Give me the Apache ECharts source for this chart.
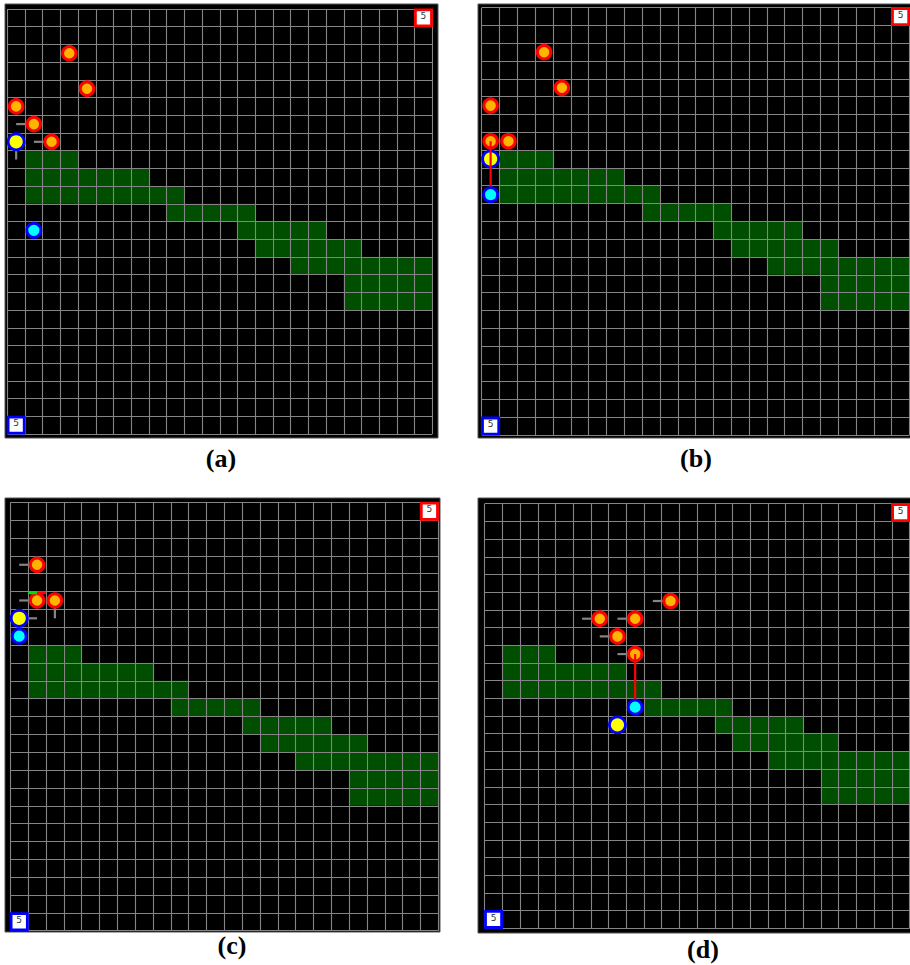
<!DOCTYPE html>
<html><head><meta charset="utf-8">
<script src="https://cdn.jsdelivr.net/npm/echarts@6/dist/echarts.min.js"></script>
<style>html,body{margin:0;padding:0;background:#fff}#c{width:910px;height:965px}</style>
</head><body><div id="c"></div>
<script>
// ---------------- DATA ----------------
const gridCols = 24, gridRows = 24;
const panelNames = ['(a)', '(b)', '(c)', '(d)'];

// obstacle (green) cells, one entry per row: columns start..end
const greenRows  = [8, 9, 10, 11, 12, 13, 14, 15, 16];
const greenStart = [1, 1, 1, 9, 13, 14, 16, 19, 19];
const greenEnd   = [3, 7, 9, 13, 17, 19, 23, 23, 23];

// base markers
const baseCols = [23, 0], baseRows = [0, 23], baseColors = ['#ff0000', '#0000ff'];
const baseLabel = '5';

// panel (a)
const aOrangeCols = [3, 4, 0, 1, 2], aOrangeRows = [2, 4, 5, 6, 7];
const aYellowCols = [0], aYellowRows = [7];
const aCyanCols = [1], aCyanRows = [12];
const aDirCols = [1, 2, 0], aDirRows = [6, 7, 7], aDirDx = [-1, -1, 0], aDirDy = [0, 0, 1];
const aLinkFrom = [], aLinkTo = [];
const aBarCols = [], aBarRows = [], aBarFrac = [];

// panel (b)
const bOrangeCols = [3, 4, 0, 0, 1], bOrangeRows = [2, 4, 5, 7, 7];
const bYellowCols = [0], bYellowRows = [8];
const bCyanCols = [0], bCyanRows = [10];
const bDirCols = [], bDirRows = [], bDirDx = [], bDirDy = [];
const bLinkFrom = [[0, 7]], bLinkTo = [[0, 10]];
const bBarCols = [], bBarRows = [], bBarFrac = [];

// panel (c)
const cOrangeCols = [1, 1, 2], cOrangeRows = [3, 5, 5];
const cYellowCols = [0], cYellowRows = [6];
const cCyanCols = [0], cCyanRows = [7];
const cDirCols = [1, 1, 2, 0], cDirRows = [3, 5, 5, 6], cDirDx = [-1, -1, 0, 1], cDirDy = [0, 0, 1, 0];
const cLinkFrom = [], cLinkTo = [];
const cBarCols = [1], cBarRows = [5], cBarFrac = [0.5];

// panel (d)
const dOrangeCols = [10, 6, 8, 7, 8], dOrangeRows = [5, 6, 6, 7, 8];
const dYellowCols = [7], dYellowRows = [12];
const dCyanCols = [8], dCyanRows = [11];
const dDirCols = [10, 6, 8, 7, 8], dDirRows = [5, 6, 6, 7, 8], dDirDx = [-1, -1, -1, -1, -1], dDirDy = [0, 0, 0, 0, 0];
const dLinkFrom = [[8, 8]], dLinkTo = [[8, 11]];
const dBarCols = [], dBarRows = [], dBarFrac = [];

// ---------------- LAYOUT ----------------
const gridBoxes = [
  {left: 7.3, top: 9, width: 425, height: 425},
  {left: 481.7, top: 7.7, width: 427.8, height: 427.3},
  {left: 10.3, top: 502.3, width: 428, height: 428.4},
  {left: 484.7, top: 503.7, width: 424.8, height: 424.6}
];
const frames = [
  {x: 5, y: 4, w: 433, h: 434},
  {x: 478, y: 4, w: 434, h: 434},
  {x: 5, y: 498, w: 435, h: 434},
  {x: 478, y: 498, w: 434, h: 435}
];
const labelPos = [[221, 458], [696, 458], [232, 945], [703, 949]];

const panels = [
  {oc: aOrangeCols, or: aOrangeRows, yc: aYellowCols, yr: aYellowRows, cc: aCyanCols, cr: aCyanRows,
   dc: aDirCols, dr: aDirRows, dx: aDirDx, dy: aDirDy, lf: aLinkFrom, lt: aLinkTo, hc: aBarCols, hr: aBarRows, hf: aBarFrac},
  {oc: bOrangeCols, or: bOrangeRows, yc: bYellowCols, yr: bYellowRows, cc: bCyanCols, cr: bCyanRows,
   dc: bDirCols, dr: bDirRows, dx: bDirDx, dy: bDirDy, lf: bLinkFrom, lt: bLinkTo, hc: bBarCols, hr: bBarRows, hf: bBarFrac},
  {oc: cOrangeCols, or: cOrangeRows, yc: cYellowCols, yr: cYellowRows, cc: cCyanCols, cr: cCyanRows,
   dc: cDirCols, dr: cDirRows, dx: cDirDx, dy: cDirDy, lf: cLinkFrom, lt: cLinkTo, hc: cBarCols, hr: cBarRows, hf: cBarFrac},
  {oc: dOrangeCols, or: dOrangeRows, yc: dYellowCols, yr: dYellowRows, cc: dCyanCols, cr: dCyanRows,
   dc: dDirCols, dr: dDirRows, dx: dDirDx, dy: dDirDy, lf: dLinkFrom, lt: dLinkTo, hc: dBarCols, hr: dBarRows, hf: dBarFrac}
];

// green cells list
const greenCells = [];
greenRows.forEach((r, i) => { for (let c = greenStart[i]; c <= greenEnd[i]; c++) greenCells.push([c, r]); });

const centers = (cols, rows) => cols.map((c, i) => [c + 0.5, rows[i] + 0.5]);

const grid = [], xAxis = [], yAxis = [], series = [], graphic = [];
panels.forEach((p, k) => {
  grid.push(Object.assign({show: false, containLabel: false}, gridBoxes[k]));
  const splitLine = {show: true, lineStyle: {color: '#858585', width: 1.1}};
  xAxis.push({gridIndex: k, type: 'value', min: 0, max: gridCols, interval: 1, z: 2,
    axisLine: {show: false}, axisTick: {show: false}, axisLabel: {show: false}, splitLine});
  yAxis.push({gridIndex: k, type: 'value', min: 0, max: gridRows, interval: 1, inverse: true, z: 2,
    axisLine: {show: false}, axisTick: {show: false}, axisLabel: {show: false}, splitLine});

  // green obstacle cells
  series.push({type: 'custom', xAxisIndex: k, yAxisIndex: k, z: 1, silent: true,
    encode: {x: 0, y: 1}, data: greenCells,
    renderItem: (params, api) => {
      const pt = api.coord([api.value(0), api.value(1)]);
      const s = api.size([1, 1]);
      return {type: 'rect', shape: {x: pt[0], y: pt[1], width: s[0], height: s[1]}, style: {fill: '#004f00'}};
    }});

  // base boxes
  series.push({type: 'custom', xAxisIndex: k, yAxisIndex: k, z: 3, silent: true,
    encode: {x: 0, y: 1}, data: baseCols.map((c, i) => [c, baseRows[i], i]),
    renderItem: (params, api) => {
      const pt = api.coord([api.value(0), api.value(1)]);
      const s = api.size([1, 1]);
      const col = baseColors[api.value(2)];
      return {type: 'group', children: [
        {type: 'rect', shape: {x: pt[0] + 0.8, y: pt[1] + 0.8, width: s[0] - 1.6, height: s[1] - 1.6},
         style: {fill: '#ffffff', stroke: col, lineWidth: 2.8}},
        {type: 'text', style: {text: baseLabel, x: pt[0] + s[0] / 2, y: pt[1] + 2.5, align: 'center', verticalAlign: 'top',
          font: '9px "DejaVu Sans", sans-serif', fill: '#333'}}
      ]};
    }});

  // heading direction ticks
  series.push({type: 'custom', xAxisIndex: k, yAxisIndex: k, z: 3, silent: true,
    encode: {x: 0, y: 1}, data: p.dc.map((c, i) => [c + 0.5, p.dr[i] + 0.5, p.dx[i], p.dy[i]]),
    renderItem: (params, api) => {
      const a = api.coord([api.value(0), api.value(1)]);
      const b = api.coord([api.value(0) + api.value(2), api.value(1) + api.value(3)]);
      return {type: 'line', shape: {x1: a[0], y1: a[1], x2: b[0], y2: b[1]}, style: {stroke: '#858585', lineWidth: 2.2}};
    }});

  // orange agents
  series.push({type: 'scatter', xAxisIndex: k, yAxisIndex: k, z: 4, silent: true, clip: false,
    symbol: 'circle', symbolSize: 13.5, data: centers(p.oc, p.or),
    itemStyle: {color: '#ffb400', borderColor: '#ff0000', borderWidth: 3, opacity: 1}});

  // yellow
  series.push({type: 'scatter', xAxisIndex: k, yAxisIndex: k, z: 5, silent: true, clip: false,
    symbol: 'circle', symbolSize: 16, data: centers(p.yc, p.yr),
    itemStyle: {color: '#ffff00', borderColor: '#0000ff', borderWidth: 2.8, opacity: 1}});

  // red links
  series.push({type: 'custom', xAxisIndex: k, yAxisIndex: k, z: 6, silent: true,
    encode: {x: 0, y: 1}, data: p.lf.map((f, i) => [f[0] + 0.5, f[1] + 0.5, p.lt[i][0] + 0.5, p.lt[i][1] + 0.5]),
    renderItem: (params, api) => {
      const a = api.coord([api.value(0), api.value(1)]);
      const b = api.coord([api.value(2), api.value(3)]);
      return {type: 'line', shape: {x1: a[0], y1: a[1], x2: b[0], y2: b[1]}, style: {stroke: '#ff0000', lineWidth: 2.2}};
    }});

  // cyan
  series.push({type: 'scatter', xAxisIndex: k, yAxisIndex: k, z: 7, silent: true, clip: false,
    symbol: 'circle', symbolSize: 14, data: centers(p.cc, p.cr),
    itemStyle: {color: '#00ffff', borderColor: '#0000ff', borderWidth: 2.8, opacity: 1}});

  // health bars
  series.push({type: 'custom', xAxisIndex: k, yAxisIndex: k, z: 8, silent: true,
    encode: {x: 0, y: 1}, data: p.hc.map((c, i) => [c, p.hr[i], p.hf[i]]),
    renderItem: (params, api) => {
      const pt = api.coord([api.value(0), api.value(1)]);
      const s = api.size([1, 1]);
      const w1 = s[0] * api.value(2);
      return {type: 'group', children: [
        {type: 'rect', shape: {x: pt[0], y: pt[1], width: w1, height: 2.6}, style: {fill: '#00dd00'}},
        {type: 'rect', shape: {x: pt[0] + w1, y: pt[1], width: s[0] - w1, height: 2.6}, style: {fill: '#ff0000'}}
      ]};
    }});

  // frame and caption
  const f = frames[k];
  graphic.push({type: 'rect', z: -5, silent: true, shape: {x: f.x, y: f.y, width: f.w, height: f.h},
    style: {fill: '#000', stroke: '#555', lineWidth: 1}});
  graphic.push({type: 'text', z: 10, silent: true, x: labelPos[k][0], y: labelPos[k][1],
    style: {text: panelNames[k], align: 'center', verticalAlign: 'middle',
      font: 'bold 26px "Liberation Serif", "Times New Roman", serif', fill: '#000'}});
});

const chart = echarts.init(document.getElementById('c'), null, {renderer: 'svg', width: 910, height: 965});
chart.setOption({animation: false, backgroundColor: '#ffffff', grid, xAxis, yAxis, series, graphic});
</script>
</body></html>
